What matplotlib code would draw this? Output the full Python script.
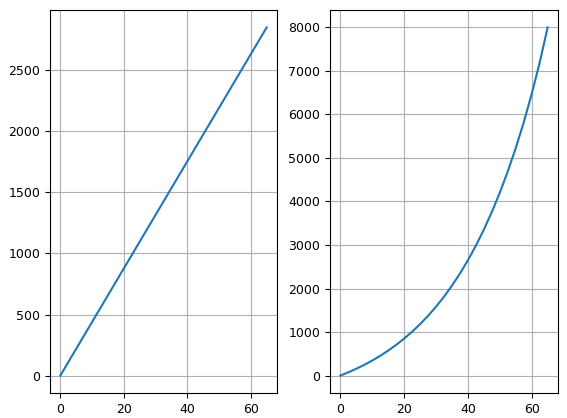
import matplotlib
matplotlib.use("Agg")
import matplotlib.pyplot as plt

x_left = [0, 65]
y_left = [0, 2850]

x_right = [0, 2.5, 5, 7.5, 10, 12.5, 15, 17.5, 20, 22.5, 25, 27.5, 30, 32.5,
           35, 37.5, 40, 42.5, 45, 47.5, 50, 52.5, 55, 57.5, 60, 62.5, 65]
y_right = [0, 75, 157, 247, 346, 455, 574, 706, 850, 1008, 1182, 1373, 1583, 1814,
           2067, 2345, 2650, 2986, 3354, 3759, 4203, 4692, 5228, 5817, 6470, 7190, 8000]

W, H = 567, 418
fig = plt.figure(figsize=(W / 100, H / 100), dpi=100)
ax1 = fig.add_axes([50 / W, 1 - 393 / H, (277 - 50) / W, (393 - 10) / H])
ax2 = fig.add_axes([330 / W, 1 - 393 / H, (558 - 330) / W, (393 - 10) / H])

for ax, xs, ys in [(ax1, x_left, y_left), (ax2, x_right, y_right)]:
    ax.plot(xs, ys, color="#1f77b4", linewidth=1.5)
    ax.grid(True, color="#b0b0b0", linewidth=0.8)
    ax.tick_params(labelsize=9)
    ax.set_xticks([0, 20, 40, 60])

ax1.set_yticks([0, 500, 1000, 1500, 2000, 2500])
ax2.set_yticks(range(0, 8001, 1000))

fig.savefig("out.png", dpi=100)
